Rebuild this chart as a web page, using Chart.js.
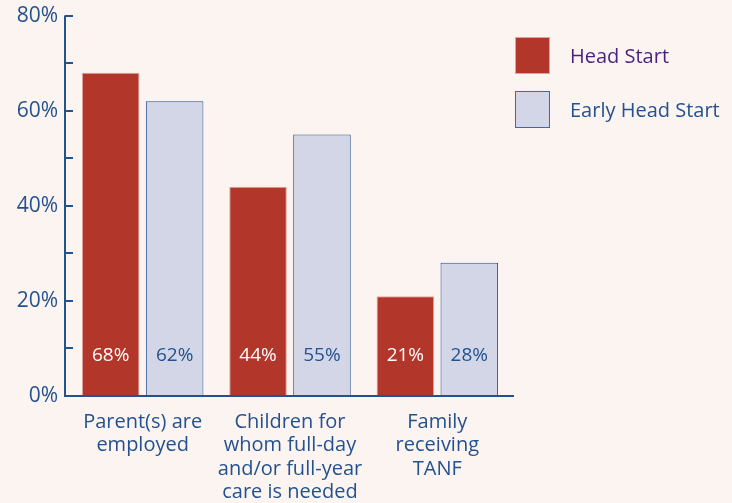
<!DOCTYPE html>
<html>
<head>
<meta charset="utf-8">
<script src="https://cdn.jsdelivr.net/npm/chart.js@4"></script>
<style>
  html, body { margin: 0; padding: 0; background: #fcf4f1; }
  #wrap { width: 732px; height: 503px; }
</style>
</head>
<body>
<div id="wrap"><canvas id="chart" width="732" height="503"></canvas></div>
<script>
const categories = [
    ['Parent(s) are', 'employed'],
    ['Children for', 'whom full-day', 'and/or full-year', 'care is needed'],
    ['Family', 'receiving', 'TANF'],
];
const headStart = [68, 44, 21];
const earlyHeadStart = [62, 55, 28];
const seriesNames = ['Head Start', 'Early Head Start'];
const yTickLabels = ['0%', '20%', '40%', '60%', '80%'];

const AXIS = '#24528f';
const RED = '#b3362a';
const LAV = '#d3d6e6';
const FONT = "'Open Sans', sans-serif";

// inward tick marks + axis lines
const axesPlugin = {
    id: 'axesPlugin',
    afterDraw(chart) {
        const { ctx, chartArea } = chart;
        const y = chart.scales.y;
        const left = chartArea.left - 4;
        ctx.save();
        ctx.strokeStyle = AXIS;
        ctx.lineWidth = 2;
        ctx.beginPath();
        ctx.moveTo(left, y.getPixelForValue(80));
        ctx.lineTo(left, chartArea.bottom);
        ctx.lineTo(chartArea.right + 3, chartArea.bottom);
        ctx.stroke();
        for (let v = 10; v <= 80; v += 10) {
            const py = Math.round(y.getPixelForValue(v));
            ctx.beginPath();
            ctx.moveTo(left, py);
            ctx.lineTo(left + 8, py);
            ctx.stroke();
        }
        ctx.restore();
    },
};

// value labels near the bottom of each bar
const valueLabels = {
    id: 'valueLabels',
    afterDatasetsDraw(chart) {
        const { ctx } = chart;
        const base = chart.scales.y.getPixelForValue(0);
        ctx.save();
        ctx.font = `19px ${FONT}`;
        ctx.textAlign = 'center';
        ctx.textBaseline = 'middle';
        chart.data.datasets.forEach((ds, i) => {
            chart.getDatasetMeta(i).data.forEach((bar, j) => {
                ctx.fillStyle = i === 0 ? '#ffffff' : AXIS;
                ctx.fillText(ds.data[j] + '%', bar.x, base - 40);
            });
        });
        ctx.restore();
    },
};

const legendBoxes = {
    id: 'legendBoxes',
    afterDraw(chart) {
        const { ctx } = chart;
        const items = [
            { fill: RED, stroke: '#e0a39a', text: '#4b1f80', y: 37 },
            { fill: LAV, stroke: '#3f6aa3', text: AXIS, y: 91 },
        ];
        ctx.save();
        ctx.font = `20px ${FONT}`;
        ctx.textBaseline = 'middle';
        items.forEach((it, i) => {
            ctx.fillStyle = it.fill;
            ctx.fillRect(515, it.y, 35, 37);
            ctx.strokeStyle = it.stroke;
            ctx.lineWidth = 1;
            ctx.strokeRect(515.5, it.y + 0.5, 34, 36);
            ctx.fillStyle = it.text;
            ctx.fillText(seriesNames[i], 570, it.y + 20);
        });
        ctx.restore();
    },
};

new Chart(document.getElementById('chart').getContext('2d'), {
    type: 'bar',
    data: {
        labels: categories,
        datasets: [{
            label: seriesNames[0],
            data: headStart,
            backgroundColor: RED,
            borderColor: '#e0a39a',
            borderWidth: 1,
            barPercentage: 0.9,
            categoryPercentage: 0.868,
        }, {
            label: seriesNames[1],
            data: earlyHeadStart,
            backgroundColor: LAV,
            borderColor: AXIS,
            borderWidth: 1,
            barPercentage: 0.9,
            categoryPercentage: 0.868,
        }],
    },
    options: {
        responsive: false,
        animation: false,
        layout: { padding: { top: 9, right: 221, left: 0, bottom: 0 } },
        scales: {
            x: {
                grid: { display: false },
                border: { display: false },
                ticks: { color: AXIS, font: { family: FONT, size: 20, lineHeight: 1.18 }, padding: 6, maxRotation: 0, autoSkip: false },
                afterFit: (s) => { s.height = 107; },
            },
            y: {
                min: 0,
                max: 80,
                grid: { display: false },
                border: { display: false },
                ticks: {
                    stepSize: 10,
                    color: AXIS,
                    padding: 3,
                    font: { family: FONT, size: 21 },
                    callback: (v) => (v % 20 === 0 ? yTickLabels[v / 20] : ''),
                },
                afterFit: (s) => { s.width = 69; },
            },
        },
        plugins: { legend: { display: false }, tooltip: { enabled: false } },
    },
    plugins: [axesPlugin, valueLabels, legendBoxes],
});
</script>
</body>
</html>
